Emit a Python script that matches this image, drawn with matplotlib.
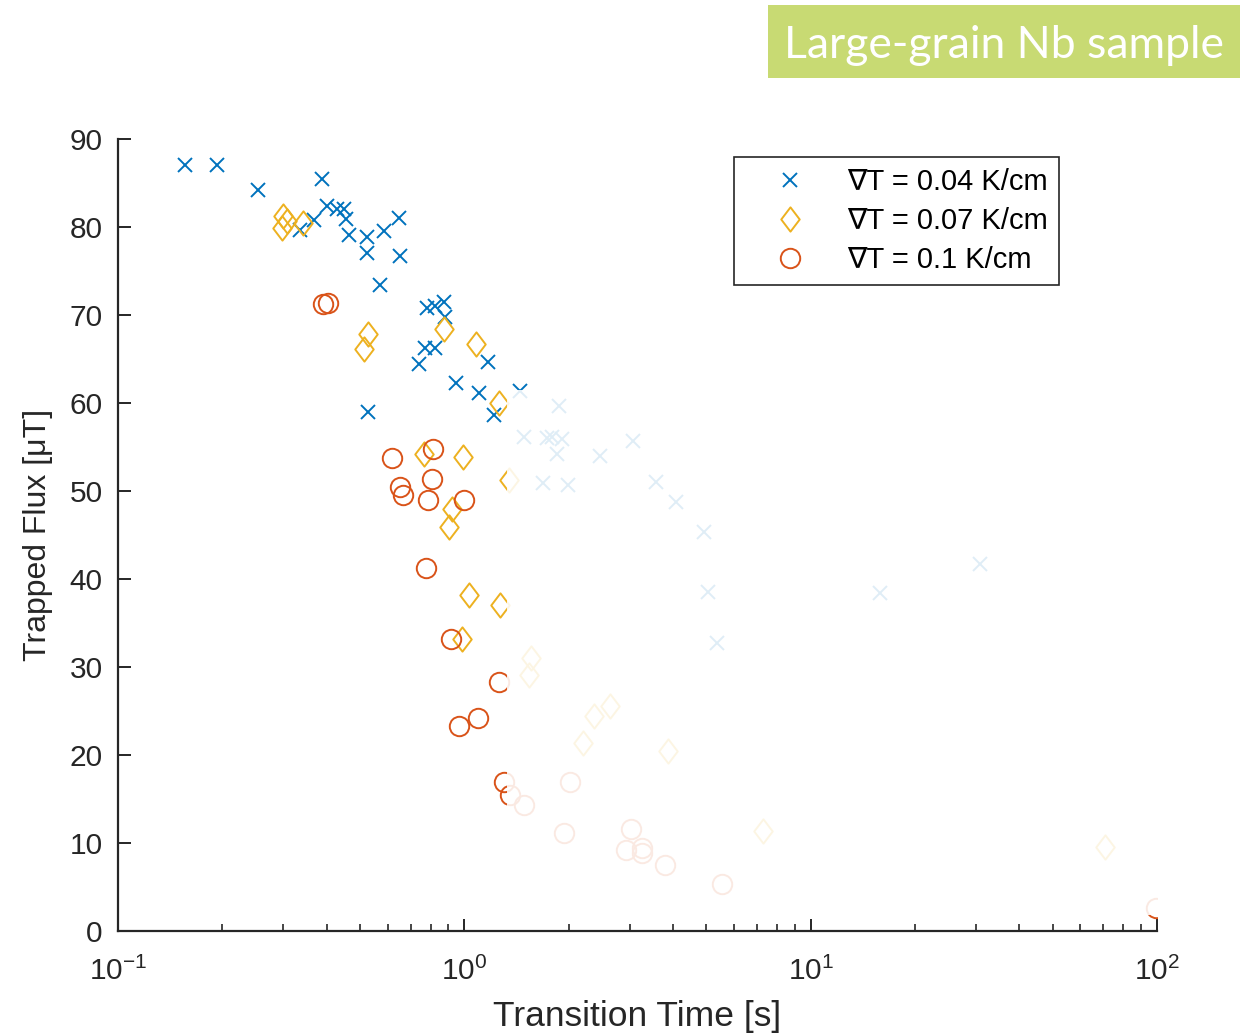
import matplotlib
matplotlib.use("Agg")
import matplotlib.pyplot as plt
from matplotlib.path import Path
from matplotlib.patches import Rectangle

plt.rcParams['font.family'] = ['Liberation Sans', 'DejaVu Sans']
plt.rcParams['mathtext.fontset'] = 'custom'
plt.rcParams['mathtext.rm'] = 'Liberation Sans'
plt.rcParams['mathtext.default'] = 'regular'

# Transition time [s] and trapped flux [uT] per temperature gradient
t_004 = [0.156, 0.193, 0.253, 0.387, 0.400, 0.429, 0.448, 0.454, 0.463, 0.524,
         0.522, 0.588, 0.648, 0.654, 0.572, 0.335, 0.367, 0.780, 0.825, 0.872,
         0.882, 0.772, 0.825, 0.740, 0.944, 1.103, 1.167, 1.221, 0.526,
         1.451, 1.880, 1.490, 1.736, 1.795, 1.918, 1.855, 2.469, 3.075, 1.690,
         1.996, 3.583, 4.091, 4.927, 5.060, 5.373, 15.87, 30.85]
b_004 = [87.0, 87.0, 84.2, 85.5, 82.4, 82.0, 82.0, 80.9, 79.1, 78.9,
         77.0, 79.5, 81.0, 76.7, 73.4, 79.7, 80.8, 70.8, 71.0, 71.5,
         69.8, 66.2, 66.2, 64.4, 62.3, 61.1, 64.7, 58.6, 59.0,
         61.3, 59.7, 56.1, 56.0, 56.1, 55.9, 54.2, 54.0, 55.7, 50.9,
         50.7, 51.0, 48.7, 45.3, 38.5, 32.7, 38.4, 41.7]

t_007 = [0.298, 0.300, 0.308, 0.341, 0.527, 0.512, 0.876, 1.078, 1.262, 0.763,
         0.993, 1.342, 0.922, 0.901, 1.032, 1.270, 0.985,
         1.557, 1.537, 2.361, 2.638, 2.194, 3.861, 7.294, 70.8]
b_007 = [79.9, 81.3, 80.7, 80.5, 67.8, 66.1, 68.4, 66.7, 60.0, 54.2,
         53.8, 51.2, 47.9, 45.9, 38.2, 37.0, 33.1,
         31.0, 29.0, 24.4, 25.5, 21.3, 20.4, 11.3, 9.5]

t_01 = [0.391, 0.403, 0.620, 0.810, 0.808, 0.654, 0.664, 0.786, 0.995, 0.777,
        0.913, 1.262, 1.092, 0.963, 1.305, 1.351,
        1.490, 2.013, 1.944, 3.034, 2.935, 3.257, 3.257, 3.803, 5.553, 99.3]
b_01 = [71.2, 71.4, 53.7, 54.7, 51.3, 50.4, 49.5, 49.0, 49.0, 41.2,
        33.1, 28.3, 24.2, 23.3, 16.9, 15.4,
        14.3, 16.9, 11.1, 11.6, 9.2, 9.35, 8.85, 7.45, 5.3, 2.6]

labels = ['\u2207T = 0.04 K/cm', '\u2207T = 0.07 K/cm', '\u2207T = 0.1 K/cm']
y_ticks = [0, 10, 20, 30, 40, 50, 60, 70, 80, 90]

BLUE = '#0072BD'
GOLD = '#EDB120'
RED = '#D95319'
INK = '#262626'

# narrow diamond, as drawn by MATLAB
diamond = Path([(0, 1), (0.76, 0), (0, -1), (-0.76, 0), (0, 1)],
               [Path.MOVETO, Path.LINETO, Path.LINETO, Path.LINETO, Path.CLOSEPOLY])

fig = plt.figure(figsize=(12.45, 10.33), dpi=100)
ax = fig.add_axes([0.0948, 0.0992, 0.8345, 0.7662])

ax.plot(t_004, b_004, linestyle='none', marker='x', color=BLUE,
        markersize=10, markeredgewidth=1.4, label=labels[0])
ax.plot(t_007, b_007, linestyle='none', marker=diamond, color=GOLD,
        markerfacecolor='none', markersize=17.5, markeredgewidth=1.4, label=labels[1])
ax.plot(t_01, b_01, linestyle='none', marker='o', color=RED,
        markerfacecolor='none', markersize=14, markeredgewidth=1.4, label=labels[2])

ax.set_xscale('log')
ax.set_xlim(0.1, 100)
ax.set_ylim(0, 90)
ax.set_yticks(y_ticks)

for side in ('top', 'right'):
    ax.spines[side].set_visible(False)
for side in ('left', 'bottom'):
    ax.spines[side].set_color(INK)
    ax.spines[side].set_linewidth(1.6)

ax.tick_params(axis='both', which='major', direction='in', length=9, width=1.4,
               colors=INK, labelsize=21.5)
ax.tick_params(axis='y', which='major', pad=11)
ax.tick_params(axis='x', which='major', pad=19)
ax.tick_params(axis='x', which='minor', direction='in', length=5, width=1.2, colors=INK)

ax.set_xlabel('Transition Time [s]', fontsize=25.5, color=INK, labelpad=10)
ax.set_ylabel('Trapped Flux [\u03bcT]', fontsize=23, color=INK, labelpad=12)

leg = ax.legend(loc='upper left', bbox_to_anchor=(0.5929, 0.9773), borderaxespad=0,
                fontsize=21, frameon=True, fancybox=False, edgecolor=INK, framealpha=1,
                handletextpad=0.41, handlelength=3.08, borderpad=0.38, labelspacing=0.38)
leg.get_frame().set_linewidth(1.2)
for t in leg.get_texts():
    t.set_color('black')

# white veil over the long-transition region
fig.add_artist(Rectangle((507 / 1245, (1033 - 915) / 1033), 1 - 507 / 1245,
                         (915 - 390) / 1033, transform=fig.transFigure,
                         facecolor='white', edgecolor='none', alpha=0.88, zorder=10))

# sample tag
fig.add_artist(Rectangle((768 / 1245, (1033 - 78) / 1033), 472 / 1245, 73 / 1033,
                         transform=fig.transFigure, facecolor='#C8DA73',
                         edgecolor='none', zorder=11))
fig.text(1004 / 1245, 1 - 45 / 1033, 'Large-grain Nb sample', ha='center', va='center',
         color='white', fontsize=32, family=['Lato', 'DejaVu Sans'], zorder=12)

fig.savefig('out.png', dpi=100)
